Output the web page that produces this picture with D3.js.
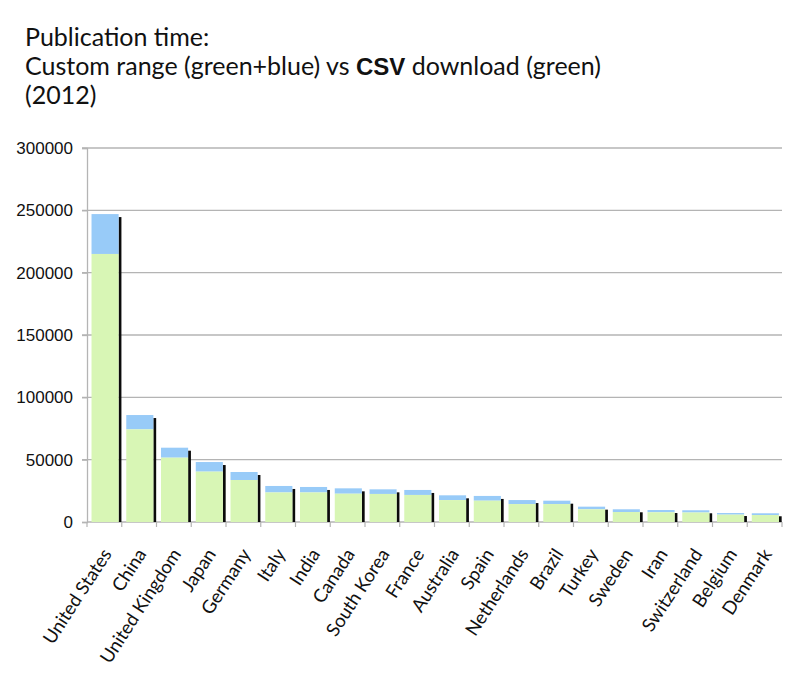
<!DOCTYPE html>
<html>
<head>
<meta charset="utf-8">
<script src="https://cdn.jsdelivr.net/npm/d3@7"></script>
<style>
  body { margin: 0; background: #fff; }
  svg { font-family: Lato, "Open Sans", sans-serif; }
  .title { font-size: 25px; fill: #111; }
  .ylabel { font-size: 17px; fill: #111; }
  .xlabel { font-size: 18.5px; fill: #111; }
</style>
</head>
<body>
<svg id="chart"></svg>
<script>
// countries, ordered as in the chart
var countries = ["United States", "China", "United Kingdom", "Japan", "Germany",
  "Italy", "India", "Canada", "South Korea", "France", "Australia", "Spain",
  "Netherlands", "Brazil", "Turkey", "Sweden", "Iran", "Switzerland",
  "Belgium", "Denmark"];

// custom range total (green + blue)
var customRange = [247000, 85800, 59600, 48100, 40100, 28900, 28100, 27000,
  26200, 25700, 21400, 20900, 17600, 17100, 12300, 10200, 9600, 9400, 7200, 7000];

// CSV download (green)
var csvDownload = [215000, 74300, 51600, 40400, 33700, 23700, 23700, 22700,
  22500, 21700, 17600, 17100, 14400, 14400, 10200, 8000, 7800, 7600, 5900, 5600];

var yTicks = [0, 50000, 100000, 150000, 200000, 250000, 300000];

var screen = { width: 802, height: 697 };
var margins = { top: 148, bottom: 175, left: 87, right: 20 };
var graph = {
  width: screen.width - margins.left - margins.right,
  height: screen.height - margins.top - margins.bottom
};

var svg = d3.select("#chart").attr("width", screen.width).attr("height", screen.height);

// title (three lines, "CSV" set in a bold narrow face like the original)
var title = svg.append("text").classed("title", true);
title.append("tspan").attr("x", 25).attr("y", 46).text("Publication time:");
title.append("tspan").attr("x", 25).attr("y", 75).text("Custom range (green+blue) vs ");
title.append("tspan")
  .attr("font-family", "'Liberation Sans Narrow', 'Liberation Sans', Arial, sans-serif")
  .attr("font-weight", "bold").attr("font-size", "24px").text("CSV");
title.append("tspan").text(" download (green)");
title.append("tspan").attr("x", 25).attr("y", 104).text("(2012)");

var data = countries.map(function (c, i) {
  return { country: c, total: customRange[i], csv: csvDownload[i] };
});

var xScale = d3.scaleBand().domain(countries).range([0, graph.width]).padding(0);
var yScale = d3.scaleLinear().domain([0, 300000]).range([graph.height, 0]);

var g = svg.append("g")
  .attr("transform", "translate(" + margins.left + "," + margins.top + ")");

// gridlines
g.append("g").selectAll("line")
  .data(yTicks.slice(1))
  .enter()
  .append("line")
  .attr("x1", -5)
  .attr("x2", graph.width)
  .attr("y1", function (d) { return yScale(d); })
  .attr("y2", function (d) { return yScale(d); })
  .attr("stroke", "#b4b4b4")
  .attr("stroke-width", 1.3);

// y axis
var yAxis = d3.axisLeft(yScale).tickValues(yTicks).tickSize(5).tickPadding(9)
  .tickFormat(d3.format("d"));
var yG = g.append("g").call(yAxis);
yG.select(".domain").attr("stroke", "#b4b4b4").attr("stroke-width", 1.3);
yG.selectAll(".tick line").attr("stroke", "#b4b4b4").attr("stroke-width", 1.3);
yG.selectAll(".tick text").attr("class", "ylabel").attr("fill", "#111");

// x axis: ticks between categories
var xG = g.append("g").attr("transform", "translate(0," + graph.height + ")");
xG.append("line")
  .attr("x1", 0).attr("x2", graph.width)
  .attr("stroke", "#b4b4b4").attr("stroke-width", 1.3);
xG.selectAll(".sep")
  .data(countries.concat(["end"]))
  .enter()
  .append("line")
  .attr("x1", function (d, i) { return i * xScale.step(); })
  .attr("x2", function (d, i) { return i * xScale.step(); })
  .attr("y1", 0).attr("y2", 5)
  .attr("stroke", "#b4b4b4").attr("stroke-width", 1.2);

// bars
var barOffset = xScale.bandwidth() * 0.13;
var barWidth = xScale.bandwidth() * 0.78;

var bars = g.append("g").selectAll("g").data(data).enter().append("g");

// dark shadow on the right side
bars.append("rect")
  .attr("x", function (d) { return xScale(d.country) + barOffset + barWidth; })
  .attr("width", 2.8)
  .attr("y", function (d) { return yScale(d.total) + 3; })
  .attr("height", function (d) { return graph.height - yScale(d.total) - 3; })
  .attr("fill", "#0b0b0b");

bars.append("rect")
  .attr("x", function (d) { return xScale(d.country) + barOffset; })
  .attr("width", barWidth)
  .attr("y", function (d) { return yScale(d.total); })
  .attr("height", function (d) { return yScale(d.csv) - yScale(d.total); })
  .attr("fill", "#98cbf8");

bars.append("rect")
  .attr("x", function (d) { return xScale(d.country) + barOffset; })
  .attr("width", barWidth)
  .attr("y", function (d) { return yScale(d.csv); })
  .attr("height", function (d) { return graph.height - yScale(d.csv); })
  .attr("fill", "#d8f6b5");

// rotated category labels
g.append("g").selectAll("text")
  .data(countries)
  .enter()
  .append("text")
  .classed("xlabel", true)
  .attr("text-anchor", "end")
  .attr("transform", function (d) {
    var cx = xScale(d) + xScale.bandwidth() / 2 + 8;
    return "translate(" + cx + "," + (graph.height + 32) + ") rotate(-57)";
  })
  .text(function (d) { return d; });
</script>
</body>
</html>
